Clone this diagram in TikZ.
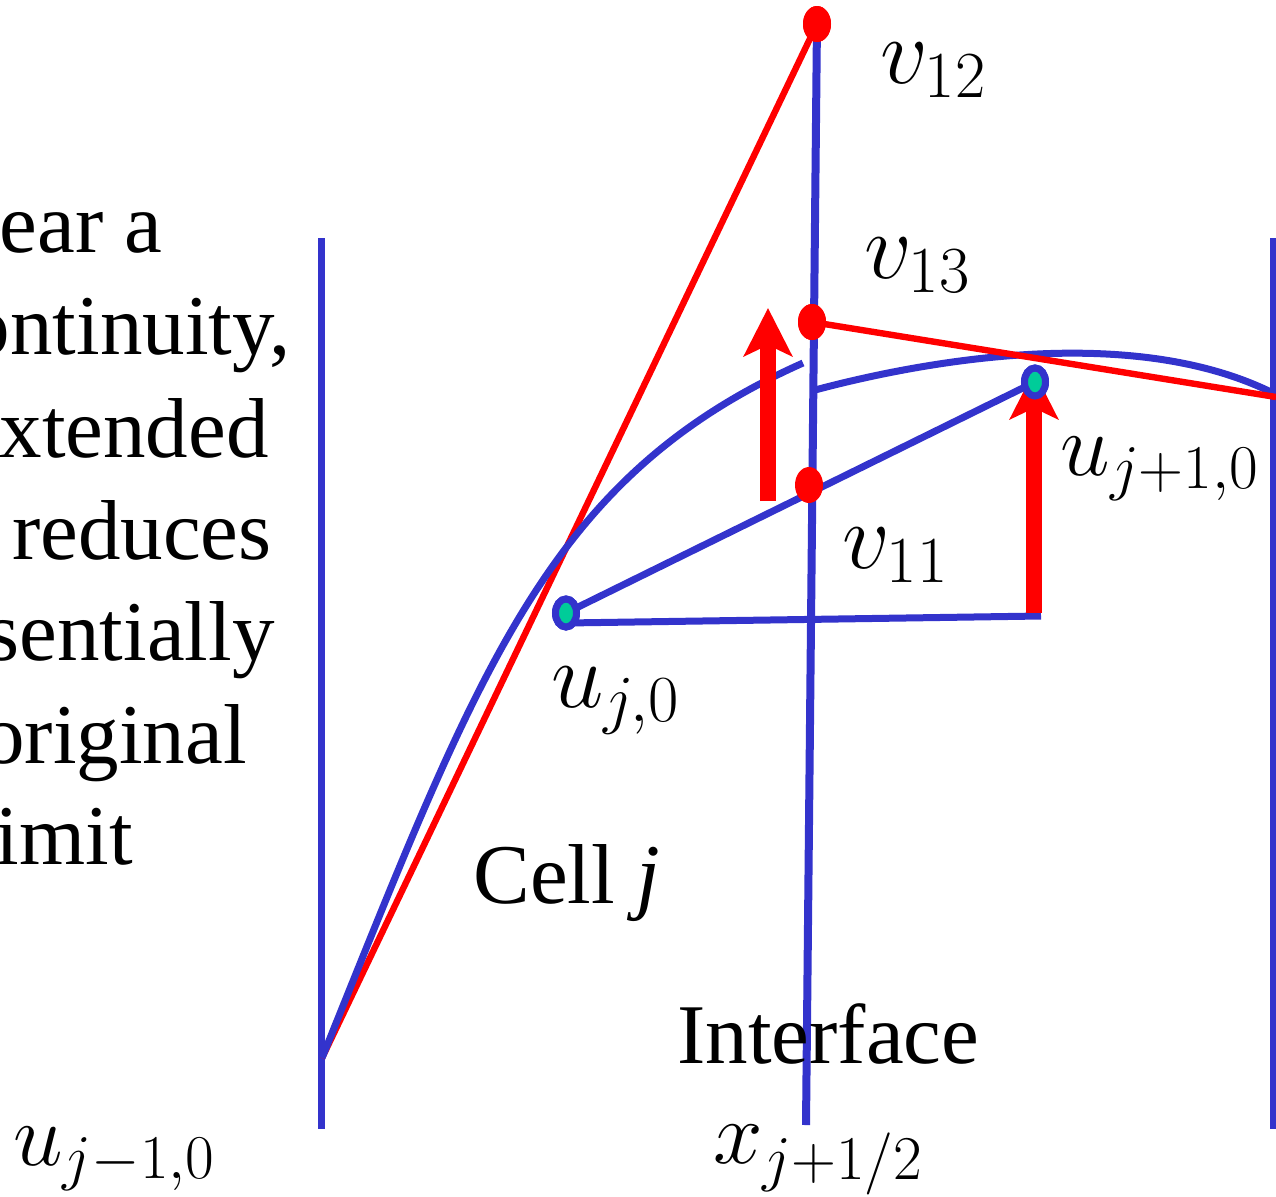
\RequirePackage{fix-cm}
\documentclass[tikz,border=0pt]{standalone}
\usepackage{fontspec}
\setmainfont{Liberation Serif}
\usetikzlibrary{arrows.meta,shapes.geometric}
\definecolor{pblue}{RGB}{51,51,204}
\definecolor{pred}{RGB}{255,0,0}
\definecolor{pteal}{RGB}{0,204,153}
\begin{document}
\begin{tikzpicture}[x=0.5pt,y=-0.5pt,
  txt/.style={font=\fontsize{42.5}{51}\selectfont, inner sep=0pt},
  mtxt/.style={font=\fontsize{47}{56}\selectfont, inner sep=0pt},
  mtxts/.style={font=\fontsize{44.5}{53}\selectfont, inner sep=0pt},
  bl/.style={draw=pblue, line width=3.5pt},
  rl/.style={draw=pred, line width=3.2pt},
  rdot/.style={ellipse, fill=pred, minimum width=14pt, minimum height=18pt, inner sep=0pt},
  umark/.style={ellipse, draw=pblue, line width=3.5pt, fill=pteal, minimum width=10.5pt, minimum height=14pt, inner sep=0pt},
  uparrow/.style={draw=pred, line width=8pt, -{Stealth[length=24pt, width=24pt, inset=5.5pt]}},
]
\useasboundingbox (0,0) rectangle (1276,1196);

% coordinates
\coordinate (Ltop) at (321,238);
\coordinate (Lbot) at (321,1129);
\coordinate (Rtop) at (1273,238);
\coordinate (Rbot) at (1273,1129);
\coordinate (Itop) at (817,22);
\coordinate (Ibot) at (806,1125);
\coordinate (A) at (322,1058);
\coordinate (Cl) at (803,363);
\coordinate (Cr) at (815,390);
\coordinate (Rend) at (1273,393);
\coordinate (Rred) at (1276,397);
\coordinate (lowA) at (566,623);
\coordinate (lowB) at (1041,616);
\coordinate (a1s) at (768,501);
\coordinate (a1e) at (768,308);
\coordinate (a2s) at (1034,613);
\coordinate (a2e) at (1034,371);

% left text fragments
\node[txt, anchor=base east] (t1) at (163,252) {ear a};
\node[txt, anchor=base east] (t2) at (291,354) {ontinuity,};
\node[txt, anchor=base east] (t3) at (269,457) {xtended};
\node[txt, anchor=base east] (t4) at (272,559) {reduces};
\node[txt, anchor=base east] (t5) at (275,660) {sentially};
\node[txt, anchor=base east] (t6) at (247,763) {original};
\node[txt, anchor=base east] (t7) at (133,864) {imit};

% vertical lines
\draw[bl] (Ltop) -- (Lbot);
\draw[bl] (Rtop) -- (Rbot);
\draw[draw=pblue, line width=4pt] (Itop) -- (Ibot);

% red secant
\node[rdot] (v12) at (817,24) {};
\draw[rl] (A) -- (v12.center);

% blue reconstruction curves
\draw[bl] (A) .. controls (479,669) and (547,477) .. (Cl);
\draw[bl] (Cr) .. controls (920,362) and (1130,322) .. (Rend);

% blue lines between cell values
\node[umark] (uj) at (566,613) {};
\node[umark] (uj1) at (1035,382) {};
\draw[bl] (uj.center) -- (uj1.center);
\draw[bl] (lowA) -- (lowB);

% red line from v13
\node[rdot] (v13) at (812,322) {};
\draw[rl] (v13.center) -- (Rred);

% arrows
\draw[uparrow] (a1s) -- (a1e);
\draw[uparrow] (a2s) -- (a2e);

% dots on top
\node[rdot] at (v12) {};
\node[rdot] at (v13) {};
\node[rdot] (v11) at (809,485) {};
\node[umark] at (uj) {};
\node[umark] at (uj1) {};

% labels
\node[mtxt, anchor=base west] (lv12) at (880,83) {$v_{12}$};
\node[mtxt, anchor=base west] (lv13) at (864,278) {$v_{13}$};
\node[mtxt, anchor=base west] (lv11) at (842,568) {$v_{11}$};
\node[mtxts, anchor=base west] (luj1) at (1060,475) {$u_{j+1,0}$};
\node[mtxt, anchor=base west] (luj) at (551,707) {$u_{j,0}$};
\node[txt, anchor=base west] (cell) at (473,903) {Cell \textit{j}};
\node[txt, anchor=base west] (intf) at (677,1063) {Interface};
\node[mtxts, anchor=base west] (lx) at (713,1163) {$x_{j+1/2}$};
\node[mtxts, anchor=base west] (lum) at (13,1165) {$u_{j-1,0}$};
\end{tikzpicture}
\end{document}
